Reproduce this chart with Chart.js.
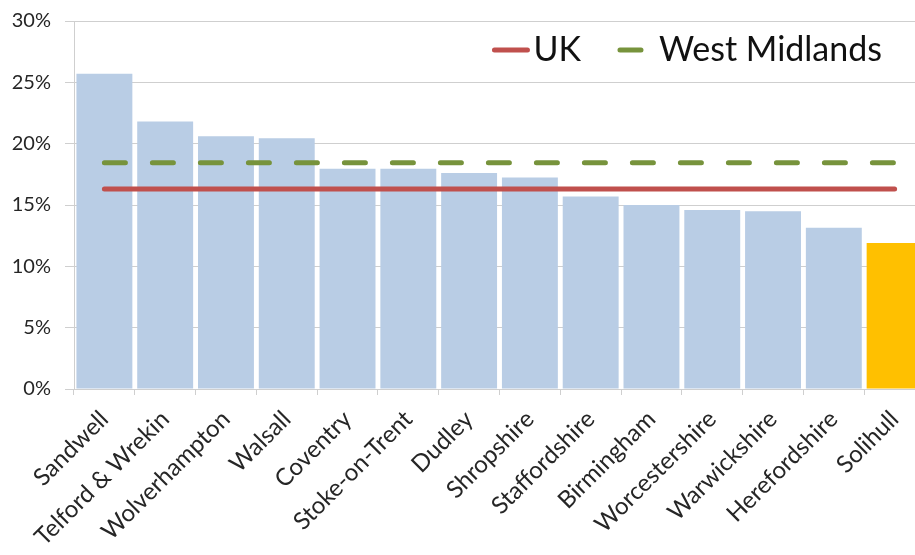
<!DOCTYPE html>
<html>
<head>
<meta charset="utf-8">
<script src="https://cdn.jsdelivr.net/npm/chart.js@4"></script>
<style>
  html, body { margin: 0; padding: 0; background: #fff; overflow: hidden; }
  /* the plot runs a little past the right edge, so the last bar is cut off */
  #frame { width: 915px; height: 555px; overflow: hidden; }
</style>
</head>
<body>
<div id="frame"><canvas id="myChart" width="925" height="555"></canvas></div>
<script>
'use strict'
// local authorities, sorted high to low
let areaNames = ['Sandwell', 'Telford & Wrekin', 'Wolverhampton', 'Walsall', 'Coventry', 'Stoke-on-Trent',
    'Dudley', 'Shropshire', 'Staffordshire', 'Birmingham', 'Worcestershire', 'Warwickshire',
    'Herefordshire', 'Solihull'];
let areaRates = [25.7, 21.8, 20.6, 20.45, 17.95, 17.95, 17.6, 17.25, 15.7, 15.0, 14.6, 14.5, 13.15, 11.9];
let ukRate = 16.3;
let westMidlandsRate = 18.45;
let yTickValues = [0, 5, 10, 15, 20, 25, 30];
let highlightArea = 'Solihull';

let barBlue = '#b9cde5';
let barGold = '#ffc000';
let gridGrey = '#cfcfcf';
let textColour = '#262626';

Chart.defaults.font.family = 'Lato, "Open Sans", sans-serif';
Chart.defaults.color = textColour;

// the reference lines run from the first area to the last one
function flatLine(value) {
    return [{ x: areaNames[0], y: value }, { x: areaNames[areaNames.length - 1], y: value }];
}

// legend sits inside the plot, top right, drawn by hand so the line markers look right
const insideLegend = {
    id: 'insideLegend',
    afterDatasetsDraw(chart) {
        let ctx = chart.ctx;
        let items = chart.data.datasets.filter(d => d.type === 'line');
        let lineLen = 33, gapText = 6, gapItems = 39;
        ctx.save();
        ctx.font = '34px ' + Chart.defaults.font.family;
        let total = 0;
        items.forEach((d, i) => {
            total += lineLen + gapText + ctx.measureText(d.label).width + (i ? gapItems : 0);
        });
        // visible width is 915, keep the text end about 33px in from it
        let x = 915 - 33 - total;
        let lineY = chart.chartArea.top + 29;
        items.forEach(d => {
            ctx.beginPath();
            ctx.strokeStyle = d.borderColor;
            ctx.lineWidth = d.borderWidth;
            ctx.lineCap = 'round';
            ctx.setLineDash(d.borderDash || []);
            ctx.moveTo(x, lineY);
            ctx.lineTo(x + lineLen, lineY);
            ctx.stroke();
            ctx.setLineDash([]);
            x += lineLen + gapText;
            ctx.fillStyle = '#111';
            ctx.textBaseline = 'alphabetic';
            ctx.fillText(d.label, x, lineY + 11);
            x += ctx.measureText(d.label).width + gapItems;
        });
        ctx.restore();
    }
};

let ctx = document.getElementById('myChart').getContext('2d');
let myChart = new Chart(ctx, {
    type: 'bar',
    data: {
        labels: areaNames,
        datasets: [{
                type: 'line',
                label: 'UK',
                data: flatLine(ukRate),
                borderColor: '#c0504d',
                borderWidth: 5,
                borderCapStyle: 'round',
                pointRadius: 0,
                order: 1
            },
            {
                type: 'line',
                label: 'West Midlands',
                data: flatLine(westMidlandsRate),
                borderColor: '#77933c',
                borderWidth: 5,
                borderCapStyle: 'round',
                borderDash: [21, 27],
                pointRadius: 0,
                order: 0
            },
            {
                type: 'bar',
                label: 'Rate',
                data: areaRates,
                backgroundColor: areaNames.map(n => n === highlightArea ? barGold : barBlue),
                categoryPercentage: 1,
                barPercentage: 0.92,
                order: 2
            }
        ]
    },
    options: {
        responsive: false,
        animation: false,
        layout: { padding: { top: 21, right: 0, left: 0, bottom: 0 } },
        plugins: {
            legend: { display: false },
            tooltip: { enabled: false }
        },
        scales: {
            x: {
                offset: true,
                grid: {
                    offset: true,
                    drawOnChartArea: false,
                    color: gridGrey,
                    tickLength: 6
                },
                border: { color: gridGrey },
                ticks: {
                    minRotation: 45,
                    maxRotation: 45,
                    autoSkip: false,
                    padding: 10,
                    font: { size: 24 }
                },
                afterFit(scale) {
                    scale.height = 166;
                    scale.paddingLeft = 0;
                    scale.paddingRight = 0;
                }
            },
            y: {
                min: 0,
                max: 30,
                grid: { color: gridGrey, tickLength: 9 },
                border: { color: gridGrey },
                afterBuildTicks(scale) { scale.ticks = yTickValues.map(v => ({ value: v })); },
                ticks: {
                    padding: 14,
                    font: { size: 20 },
                    callback: v => v + '%'
                },
                afterFit(scale) {
                    scale.width = 74;
                    scale.paddingTop = 0;
                    scale.paddingBottom = 0;
                }
            }
        }
    },
    plugins: [insideLegend]
});
</script>
</body>
</html>
